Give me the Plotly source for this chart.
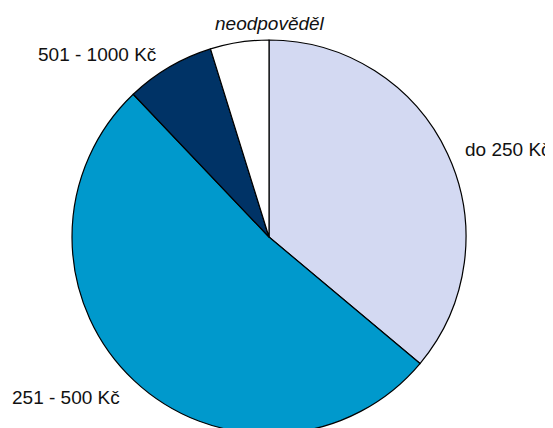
import plotly.graph_objects as go

# categories and shares (percent)
labels = ["do 250 Kč", "251 - 500 Kč", "501 - 1000 Kč", "neodpověděl"]
shares = [36.1, 51.8, 7.3, 4.8]
colors = ["#D3D9F2", "#0099CC", "#003366", "#FFFFFF"]

W, H = 553, 428
OFF = 8              # default body margin of the html page
TOP, BOT = 32, 2

fig = go.Figure(
    go.Pie(
        labels=labels,
        values=shares,
        sort=False,
        direction="clockwise",
        rotation=0,
        textinfo="none",
        hoverinfo="label+percent",
        marker=dict(colors=colors, line=dict(color="#000000", width=1.2)),
        domain=dict(x=[0, (269 - OFF) * 2 / W], y=[0, 1]),
        showlegend=False,
    )
)

# label placement in window pixels, text comes from the labels list
label_pos = [
    (508, 149, False),
    (66, 397, False),
    (97, 54, False),
    (270, 23, True),
]
plot_h = H - TOP - BOT
for text, (px, py, italic) in zip(labels, label_pos):
    fig.add_annotation(
        x=(px - OFF) / W, y=1 - (py - OFF - TOP) / plot_h,
        xref="paper", yref="paper",
        xanchor="center", yanchor="middle", showarrow=False,
        text=f"<i>{text}</i>" if italic else text,
        font=dict(family="Liberation Sans, Arial, sans-serif", size=19, color="#111111"),
    )

fig.update_layout(
    width=W, height=H,
    margin=dict(l=0, r=0, t=TOP, b=BOT),
    paper_bgcolor="white", plot_bgcolor="white",
)

fig.write_html("out.html")
